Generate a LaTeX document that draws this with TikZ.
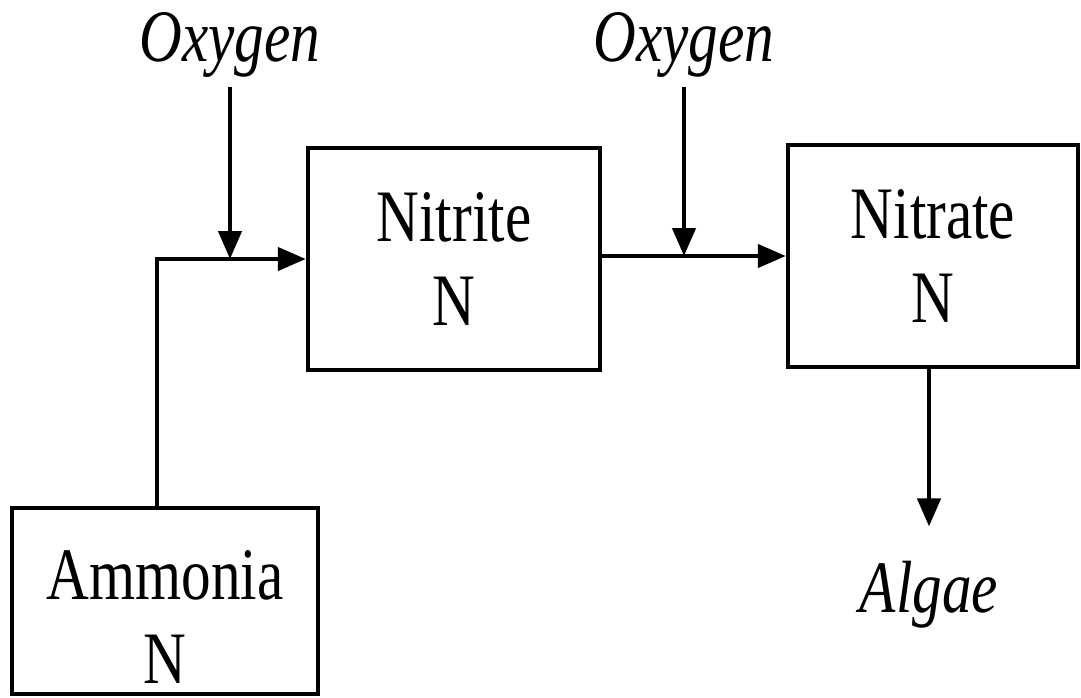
\documentclass[tikz,border=0pt]{standalone}
\usepackage{fontspec}
\setmainfont[FakeStretch=0.8]{Liberation Serif}
\usetikzlibrary{arrows.meta}
\usetikzlibrary{positioning}

\begin{document}
\begin{tikzpicture}[x=0.5pt,y=-0.5pt,line width=2.2pt,
    box/.style={draw,rectangle,align=center,inner sep=0pt,
      font=\fontsize{37}{42}\selectfont},
    gas/.style={inner sep=4pt,font=\fontsize{37}{42}\selectfont\itshape},
    flow/.style={-{Triangle[length=14pt,width=11.5pt]}}]
  \useasboundingbox (0,0) rectangle (1081,697);
  \node[box,minimum width=146pt,minimum height=111pt] (nitrite) at (454,259) {Nitrite\\N};
  \node[box,minimum width=145pt,minimum height=111pt] (nitrate) at (933,256) {Nitrate\\N};
  \node[box,minimum width=153pt,minimum height=93pt] (ammonia) at (165,601) {\rule{0pt}{40pt}Ammonia\\N};
  \node[gas,anchor=base] (oxyA) at (230,61) {Oxygen};
  \node[gas,anchor=base] (oxyB) at (684,61) {Oxygen};
  \node[gas,anchor=base] (algae) at (929,612) {Algae};
  \coordinate (bend) at (157,259);
  % ammonia to nitrite
  \draw[flow] (bend |- ammonia.north) -- (bend) -- (nitrite.west);
  \draw[flow] (oxyA) -- (oxyA |- bend);
  % nitrite to nitrate
  \draw[flow] (nitrite.east |- nitrate.west) -- (nitrate.west);
  \draw[flow] (oxyB) -- (oxyB |- nitrate.west);
  \draw[flow,shorten >=12pt] (algae.north |- nitrate.south) -- (algae.north);
\end{tikzpicture}
\end{document}
